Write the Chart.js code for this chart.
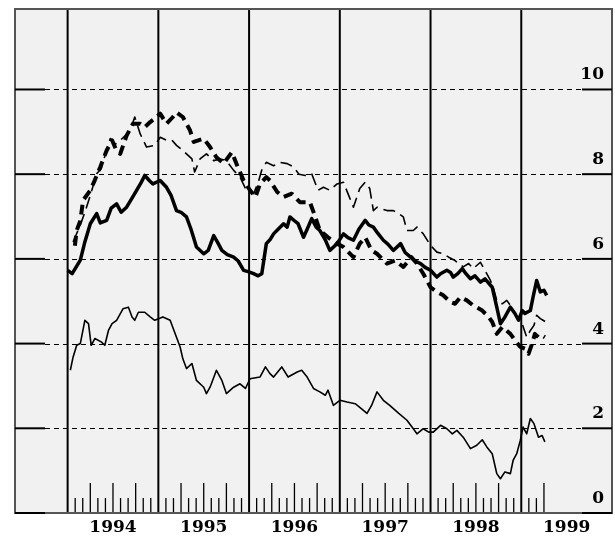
<!DOCTYPE html>
<html>
<head>
<meta charset="utf-8">
<script src="https://cdn.jsdelivr.net/npm/chart.js@4.4.1/dist/chart.umd.min.js"></script>
<style>
  html, body { margin: 0; padding: 0; background: #fff; }
  canvas { display: block; }
</style>
</head>
<body>
<canvas id="c" width="615" height="537"></canvas>
<script>
// axis settings
const years = [1994, 1995, 1996, 1997, 1998, 1999];
const yTicks = [0, 2, 4, 6, 8, 10];
const lastMonthTick = 1999 + 3 / 12;

// thick solid line
const thickSolidT = [1994.00,1994.05,1994.14,1994.19,1994.25,1994.32,1994.36,1994.43,1994.48,1994.54,1994.59,1994.65,1994.70,1994.76,1994.81,1994.85,1994.90,1994.94,
  1995.02,1995.09,1995.14,1995.20,1995.25,1995.31,1995.36,1995.42,1995.50,1995.55,1995.61,1995.65,1995.70,1995.76,1995.83,1995.88,1995.94,1995.99,
  1996.05,1996.10,1996.14,1996.19,1996.23,1996.27,1996.32,1996.38,1996.42,1996.45,1996.50,1996.54,1996.60,1996.64,1996.69,1996.74,1996.78,1996.84,1996.89,1996.97,
  1997.04,1997.09,1997.15,1997.21,1997.28,1997.32,1997.37,1997.42,1997.48,1997.53,1997.59,1997.67,1997.72,1997.78,1997.83,1997.89,1997.94,
  1998.00,1998.07,1998.11,1998.18,1998.22,1998.25,1998.30,1998.35,1998.39,1998.44,1998.49,1998.55,1998.60,1998.68,1998.73,1998.77,1998.82,1998.88,1998.93,1998.97,
  1999.01,1999.04,1999.10,1999.13,1999.17,1999.21,1999.25,1999.28];
const thickSolidV = [5.73,5.65,5.97,6.40,6.83,7.07,6.85,6.91,7.20,7.30,7.10,7.22,7.40,7.62,7.80,7.97,7.85,7.77,
  7.85,7.69,7.50,7.14,7.10,6.99,6.70,6.28,6.12,6.20,6.55,6.40,6.20,6.10,6.04,5.95,5.73,5.70,
  5.65,5.60,5.65,6.36,6.45,6.59,6.70,6.83,6.75,6.99,6.90,6.83,6.51,6.70,6.95,6.75,6.67,6.45,6.20,6.36,
  6.59,6.50,6.44,6.70,6.91,6.80,6.75,6.60,6.44,6.35,6.20,6.36,6.15,6.04,5.95,5.89,5.80,
  5.73,5.57,5.65,5.73,5.68,5.57,5.65,5.77,5.65,5.53,5.60,5.45,5.53,5.33,4.86,4.47,4.63,4.86,4.71,4.55,
  4.78,4.71,4.78,5.10,5.49,5.22,5.26,5.14];

// thin solid line
const thinSolidT = [1994.03,1994.06,1994.10,1994.14,1994.19,1994.23,1994.26,1994.30,1994.37,1994.41,1994.45,1994.49,1994.54,1994.61,1994.67,1994.71,1994.74,1994.78,1994.85,1994.91,1994.96,
  1995.05,1995.13,1995.20,1995.24,1995.27,1995.31,1995.37,1995.42,1995.50,1995.53,1995.57,1995.64,1995.70,1995.75,1995.83,1995.90,1995.96,
  1996.01,1996.12,1996.18,1996.23,1996.27,1996.36,1996.43,1996.53,1996.58,1996.64,1996.71,1996.78,1996.84,1996.87,1996.93,
  1997.00,1997.08,1997.17,1997.24,1997.30,1997.35,1997.41,1997.48,1997.55,1997.65,1997.74,1997.81,1997.85,1997.92,1997.98,
  1998.03,1998.11,1998.18,1998.24,1998.29,1998.36,1998.44,1998.51,1998.57,1998.62,1998.68,1998.73,1998.77,1998.82,1998.88,1998.91,1998.95,1998.99,
  1999.02,1999.06,1999.10,1999.14,1999.19,1999.23,1999.26];
const thinSolidV = [3.37,3.68,3.96,4.00,4.55,4.47,3.96,4.12,4.04,3.96,4.31,4.47,4.55,4.82,4.86,4.63,4.55,4.74,4.74,4.63,4.55,
  4.63,4.55,4.15,3.92,3.64,3.41,3.53,3.13,2.97,2.82,2.97,3.37,3.13,2.82,2.97,3.05,2.94,
  3.17,3.21,3.45,3.29,3.21,3.45,3.21,3.33,3.37,3.21,2.94,2.86,2.78,2.90,2.54,
  2.66,2.62,2.58,2.46,2.35,2.54,2.86,2.66,2.54,2.35,2.19,1.99,1.87,1.99,1.91,
  1.91,2.07,1.99,1.87,1.95,1.79,1.52,1.60,1.73,1.56,1.40,0.93,0.81,0.97,0.93,1.24,1.40,1.72,
  2.03,1.87,2.23,2.11,1.79,1.83,1.68];

// thick dashed line
const thickDashT = [1994.08,1994.10,1994.14,1994.17,1994.25,1994.30,1994.36,1994.43,1994.49,1994.53,1994.58,1994.65,1994.72,1994.80,1994.85,1994.91,1994.96,
  1995.02,1995.09,1995.16,1995.20,1995.27,1995.35,1995.39,1995.44,1995.50,1995.57,1995.64,1995.72,1995.81,1995.86,1995.94,
  1996.01,1996.07,1996.12,1996.19,1996.23,1996.31,1996.38,1996.47,1996.56,1996.67,1996.73,1996.78,1996.87,1996.97,
  1997.04,1997.15,1997.22,1997.28,1997.35,1997.41,1997.52,1997.61,1997.70,1997.79,1997.85,1997.92,
  1998.00,1998.07,1998.14,1998.22,1998.27,1998.33,1998.40,1998.47,1998.57,1998.64,1998.68,1998.73,1998.79,1998.88,1998.93,1998.99,
  1999.04,1999.08,1999.12,1999.15,1999.19,1999.23,1999.26];
const thickDashV = [6.31,6.67,6.90,7.38,7.62,7.86,8.17,8.56,8.80,8.60,8.48,8.91,9.19,9.19,9.11,9.23,9.31,
  9.43,9.19,9.35,9.46,9.35,9.03,8.76,8.80,8.84,8.64,8.40,8.25,8.52,8.25,7.85,
  7.62,7.46,7.77,7.93,7.85,7.58,7.46,7.54,7.34,7.34,6.99,6.67,6.51,6.36,
  6.28,6.04,6.36,6.51,6.20,6.12,5.89,5.96,5.81,6.04,5.89,5.65,
  5.33,5.22,5.14,4.98,4.94,5.10,5.02,4.90,4.78,4.63,4.51,4.23,4.39,4.23,4.08,3.92,
  3.88,3.76,4.00,4.23,4.15,4.19,4.15];

// thin dashed line
const thinDashT = [1994.06,1994.10,1994.14,1994.19,1994.25,1994.32,1994.37,1994.42,1994.47,1994.52,1994.58,1994.63,1994.69,1994.74,1994.80,1994.87,1994.96,
  1995.02,1995.09,1995.15,1995.20,1995.27,1995.37,1995.40,1995.46,1995.53,1995.61,1995.68,1995.75,1995.83,1995.90,1995.97,
  1996.05,1996.10,1996.14,1996.19,1996.27,1996.34,1996.42,1996.49,1996.55,1996.62,1996.69,1996.76,1996.82,1996.89,1996.97,
  1997.04,1997.09,1997.15,1997.22,1997.28,1997.33,1997.37,1997.41,1997.52,1997.59,1997.63,1997.70,1997.74,1997.81,1997.85,1997.92,
  1998.00,1998.07,1998.14,1998.20,1998.27,1998.36,1998.42,1998.47,1998.55,1998.60,1998.66,1998.69,1998.73,1998.79,1998.84,1998.88,1998.93,1998.97,
  1999.01,1999.06,1999.10,1999.14,1999.17,1999.21,1999.24,1999.27];
const thinDashV = [6.40,6.60,6.80,7.10,7.50,8.01,8.13,8.50,8.84,8.70,8.80,8.90,9.03,9.35,8.95,8.64,8.68,
  8.87,8.80,8.80,8.68,8.56,8.36,8.05,8.36,8.48,8.32,8.36,8.32,8.09,7.93,7.62,
  7.54,7.80,8.10,8.28,8.20,8.28,8.25,8.17,8.00,7.97,8.01,7.62,7.69,7.62,7.77,
  7.81,7.54,7.22,7.66,7.81,7.66,7.14,7.22,7.14,7.14,7.10,6.99,6.67,6.67,6.75,6.59,
  6.32,6.16,6.12,6.04,5.96,5.81,5.89,5.77,5.92,5.73,5.49,5.33,5.02,4.94,5.02,4.90,4.71,4.55,
  4.47,4.15,4.31,4.43,4.67,4.59,4.55,4.51];

const pts = (t, v) => t.map((x, i) => ({ x: x, y: v[i] }));
const FONT = 'bold 17px "DejaVu Serif", "Liberation Serif", serif';

function seg(ctx, x1, y1, x2, y2) {
  ctx.beginPath(); ctx.moveTo(x1, y1); ctx.lineTo(x2, y2); ctx.stroke();
}

// background, grid, year lines and month ticks
const frame = {
  id: 'frame',
  beforeDatasetsDraw(chart) {
    const { ctx, chartArea: a, scales: { x, y } } = chart;
    ctx.save();
    ctx.fillStyle = '#f1f1f1';
    ctx.fillRect(a.left, a.top, a.right - a.left, a.bottom - a.top);

    ctx.strokeStyle = '#000';
    ctx.lineWidth = 1;
    ctx.setLineDash([5, 4]);
    yTicks.forEach(v => {
      if (v === 0) return;
      const py = Math.round(y.getPixelForValue(v)) + 0.5;
      seg(ctx, a.left + 30, py, a.right - 30, py);
    });
    ctx.setLineDash([]);

    ctx.lineWidth = 2;
    years.forEach(yr => {
      const px = x.getPixelForValue(yr);
      seg(ctx, px, a.top, px, a.bottom);
    });

    ctx.lineWidth = 1.3;
    years.forEach(yr => {
      for (let m = 1; m < 12; m++) {
        const t = yr + m / 12;
        if (t > lastMonthTick + 0.001) break;
        const px = x.getPixelForValue(t);
        const len = (m % 3 === 0) ? 30 : 15;
        seg(ctx, px, a.bottom, px, a.bottom - len);
      }
    });
    ctx.restore();
  },
  afterDraw(chart) {
    const { ctx, chartArea: a, scales: { x, y } } = chart;
    ctx.save();
    ctx.strokeStyle = '#555';
    ctx.lineWidth = 2;
    ctx.strokeRect(a.left, a.top, a.right - a.left, a.bottom - a.top);

    ctx.strokeStyle = '#000';
    ctx.lineWidth = 2;
    yTicks.forEach(v => {
      const py = y.getPixelForValue(v);
      seg(ctx, a.left, py, a.left + 30, py);
      seg(ctx, a.right - 30, py, a.right, py);
    });

    ctx.fillStyle = '#000';
    ctx.font = FONT;
    ctx.textAlign = 'right';
    ctx.textBaseline = 'alphabetic';
    yTicks.forEach(v => {
      ctx.fillText(String(v), a.right - 8, y.getPixelForValue(v) - 10);
    });

    ctx.textAlign = 'center';
    ctx.textBaseline = 'middle';
    years.forEach(yr => {
      ctx.fillText(String(yr), x.getPixelForValue(yr + 0.5), a.bottom + 15);
    });
    ctx.restore();
  }
};

new Chart(document.getElementById('c'), {
  type: 'line',
  data: {
    datasets: [
      { data: pts(thinSolidT, thinSolidV), borderColor: '#000', borderWidth: 1.6 },
      { data: pts(thinDashT, thinDashV), borderColor: '#000', borderWidth: 1.6, borderDash: [12, 6] },
      { data: pts(thickDashT, thickDashV), borderColor: '#000', borderWidth: 4, borderDash: [10, 6] },
      { data: pts(thickSolidT, thickSolidV), borderColor: '#000', borderWidth: 3.5 }
    ]
  },
  options: {
    responsive: false,
    animation: false,
    devicePixelRatio: 1,
    layout: { padding: { left: 15, top: 9, right: 3, bottom: 24 } },
    elements: {
      point: { radius: 0 },
      line: { tension: 0, fill: false, borderJoinStyle: 'round', borderCapStyle: 'butt' }
    },
    plugins: { legend: { display: false }, tooltip: { enabled: false } },
    scales: {
      x: { type: 'linear', min: 1993.42, max: 2000, display: false },
      y: { type: 'linear', min: 0, max: 11.9, display: false }
    }
  },
  plugins: [frame]
});
</script>
</body>
</html>
